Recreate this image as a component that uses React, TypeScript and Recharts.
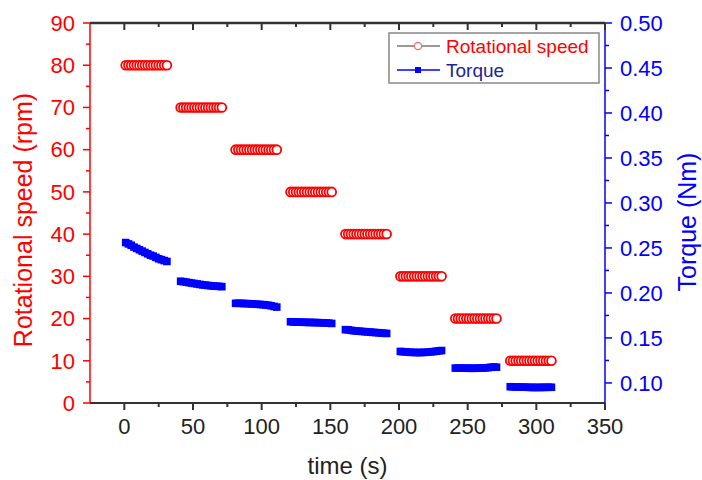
import React from 'react';
import { LineChart, Line, XAxis, YAxis } from 'recharts';

const FONT = '"Liberation Sans", Arial, Helvetica, sans-serif';

// ---- data ----
const segmentStartTimes = [1, 41, 81, 121, 161, 201, 241, 281];
const sampleOffsets = [0, 2, 4, 6, 8, 10, 12, 14, 16, 18, 20, 22, 24, 26, 28, 30];
const speedLevels = [80, 70, 60, 50, 40, 30, 20, 10];

const torqueSeg1 = [0.256, 0.2545, 0.253, 0.251, 0.2495, 0.248, 0.2465, 0.245, 0.2435, 0.242, 0.241, 0.2395, 0.238, 0.237, 0.236, 0.235];
const torqueSeg2 = [0.213, 0.2125, 0.212, 0.2115, 0.211, 0.2105, 0.21, 0.2095, 0.209, 0.2087, 0.2083, 0.208, 0.2077, 0.2075, 0.2073, 0.207];
const torqueSeg3 = [0.1885, 0.1885, 0.1884, 0.1883, 0.1882, 0.188, 0.1878, 0.1876, 0.1874, 0.1872, 0.187, 0.1867, 0.1863, 0.1857, 0.185, 0.1843];
const torqueSeg4 = [0.168, 0.1678, 0.1677, 0.1676, 0.1675, 0.1674, 0.1673, 0.1672, 0.1672, 0.1671, 0.167, 0.1669, 0.1668, 0.1666, 0.1664, 0.1661];
const torqueSeg5 = [0.1592, 0.159, 0.1585, 0.158, 0.1577, 0.1575, 0.1572, 0.157, 0.1567, 0.1565, 0.1562, 0.156, 0.1558, 0.1555, 0.1552, 0.155];
const torqueSeg6 = [0.135, 0.1347, 0.1345, 0.1342, 0.134, 0.1339, 0.1338, 0.1338, 0.1339, 0.134, 0.1342, 0.1345, 0.1348, 0.1352, 0.1356, 0.136];
const torqueSeg7 = [0.1165, 0.1165, 0.1164, 0.1164, 0.1164, 0.1163, 0.1163, 0.1163, 0.1164, 0.1165, 0.1166, 0.1168, 0.117, 0.1174, 0.1177, 0.1175];
const torqueSeg8 = [0.0958, 0.0957, 0.0956, 0.0955, 0.0954, 0.0953, 0.0952, 0.0951, 0.095, 0.095, 0.095, 0.095, 0.0951, 0.0951, 0.0952, 0.0952];
const torqueSegments = [torqueSeg1, torqueSeg2, torqueSeg3, torqueSeg4, torqueSeg5, torqueSeg6, torqueSeg7, torqueSeg8];

const xDomain = [-25, 350];
const xMajorTicks = [0, 50, 100, 150, 200, 250, 300, 350];
const xMinorTicks = [25, 75, 125, 175, 225, 275, 325];
const speedMajorTicks = [0, 10, 20, 30, 40, 50, 60, 70, 80, 90];
const speedMinorTicks = [5, 15, 25, 35, 45, 55, 65, 75, 85];
const torqueMajorTicks = [0.1, 0.15, 0.2, 0.25, 0.3, 0.35, 0.4, 0.45, 0.5];
const torqueMinorTicks = [0.125, 0.175, 0.225, 0.275, 0.325, 0.375, 0.425, 0.475];

type Row = { time: number; speed: number | null; torque: number | null };
const chartData: Row[] = [];
segmentStartTimes.forEach((start, s) => {
  sampleOffsets.forEach((off, i) => {
    chartData.push({ time: start + off, speed: speedLevels[s], torque: torqueSegments[s][i] });
  });
  chartData.push({ time: start + 35, speed: null, torque: null });
});

const isMajor = (v: number, majors: number[]) => majors.some((m) => Math.abs(m - v) < 1e-6);

// ---- layout ----
const CHART_W = 702;
const CHART_H = 480;
const MARGIN = { top: 23, right: 7, bottom: 27, left: 10 };
const LEFT_W = 80;
const RIGHT_W = 90;
const X_AXIS_H = 50;
const PLOT_X = MARGIN.left + LEFT_W;
const PLOT_Y = MARGIN.top;
const PLOT_W = CHART_W - MARGIN.left - MARGIN.right - LEFT_W - RIGHT_W;

const TICK_SIZE = 7;
const TICK_MARGIN = 8;
const MINOR_LEN = 4;
const AXIS_GRAY = '#333';
const RED = '#ff0000';
const BLUE = '#0000ff';

const xToPx = (t: number) => PLOT_X + ((t - xDomain[0]) / (xDomain[1] - xDomain[0])) * PLOT_W;

const BottomTick = (p: any) => {
  const v = p.payload.value;
  const major = isMajor(v, xMajorTicks);
  const axisY = p.y - TICK_SIZE - TICK_MARGIN;
  return (
    <g>
      <line x1={p.x} x2={p.x} y1={axisY} y2={axisY + (major ? TICK_SIZE : MINOR_LEN)} stroke={AXIS_GRAY} strokeWidth={2} />
      {major && (
        <text x={p.x} y={p.y} dy="0.71em" textAnchor="middle" fontSize={22} fontFamily={FONT} fill="#222">
          {v}
        </text>
      )}
    </g>
  );
};

const LeftTick = (p: any) => {
  const v = p.payload.value;
  const major = isMajor(v, speedMajorTicks);
  const axisX = p.x + TICK_SIZE + TICK_MARGIN;
  return (
    <g>
      <line x1={axisX} x2={axisX - (major ? TICK_SIZE : MINOR_LEN)} y1={p.y} y2={p.y} stroke={RED} strokeWidth={1.5} />
      {major && (
        <text x={p.x} y={p.y} dy="0.355em" textAnchor="end" fontSize={22} fontFamily={FONT} fill={RED}>
          {v}
        </text>
      )}
    </g>
  );
};

const RightTick = (p: any) => {
  const v = p.payload.value;
  const major = isMajor(v, torqueMajorTicks);
  const axisX = p.x - TICK_SIZE - TICK_MARGIN;
  return (
    <g>
      <line x1={axisX} x2={axisX + (major ? TICK_SIZE : MINOR_LEN)} y1={p.y} y2={p.y} stroke={BLUE} strokeWidth={1.5} />
      {major && (
        <text x={p.x} y={p.y} dy="0.355em" textAnchor="start" fontSize={22} fontFamily={FONT} fill={BLUE}>
          {v.toFixed(2)}
        </text>
      )}
    </g>
  );
};

const SpeedDot = (p: any) => {
  if (p.cy == null || Number.isNaN(p.cy) || p.value == null) return <g key={`sd-${p.index}`} />;
  return <circle key={`sd-${p.index}`} cx={p.cx} cy={p.cy} r={4.4} fill="#fff" stroke={RED} strokeWidth={1.8} />;
};

const TorqueDot = (p: any) => {
  if (p.cy == null || Number.isNaN(p.cy) || p.value == null) return <g key={`td-${p.index}`} />;
  return <rect key={`td-${p.index}`} x={p.cx - 3.8} y={p.cy - 3.8} width={7.6} height={7.6} fill={BLUE} />;
};

const TopFrame = () => (
  <svg width={CHART_W} height={CHART_H} style={{ position: 'absolute', left: 0, top: 0, pointerEvents: 'none', zIndex: 2 }}>
    <rect x={PLOT_X} y={PLOT_Y - 1.25} width={PLOT_W} height={2.5} fill={AXIS_GRAY} />
    {[...xMajorTicks, ...xMinorTicks].map((t) => (
      <rect
        key={`top-${t}`}
        x={xToPx(t) - 1}
        y={PLOT_Y}
        width={2}
        height={isMajor(t, xMajorTicks) ? TICK_SIZE : MINOR_LEN}
        fill={AXIS_GRAY}
      />
    ))}
  </svg>
);

const LegendBox = () => (
  <svg width={212} height={52} style={{ position: 'absolute', left: 388, top: 32, zIndex: 3 }}>
    <rect x={1} y={1} width={210} height={50} fill="#fff" stroke="#888" strokeWidth={1.5} />
    <line x1={9} x2={52} y1={14} y2={14} stroke="#777" strokeWidth={1.5} />
    <circle cx={30} cy={14} r={3.6} fill="#fff" stroke="#f07070" strokeWidth={1.3} />
    <text x={58} y={14} dy="0.355em" fontSize={19} fontFamily={FONT} fill={RED}>
      Rotational speed
    </text>
    <line x1={9} x2={52} y1={38} y2={38} stroke={BLUE} strokeWidth={1.5} />
    <rect x={27} y={35} width={6} height={6} fill={BLUE} />
    <text x={58} y={38} dy="0.355em" fontSize={19} fontFamily={FONT} fill="#22229a">
      Torque
    </text>
  </svg>
);

export default function App() {
  return (
    <div style={{ position: 'absolute', left: 0, top: 0, width: CHART_W, height: CHART_H, background: '#fff' }}>
      <LineChart width={CHART_W} height={CHART_H} data={chartData} margin={MARGIN}>
        <XAxis
          xAxisId="bottom"
          dataKey="time"
          type="number"
          domain={xDomain}
          allowDataOverflow
          ticks={[...xMajorTicks, ...xMinorTicks]}
          interval={0}
          height={X_AXIS_H}
          axisLine={{ stroke: AXIS_GRAY, strokeWidth: 2 }}
          tickLine={false}
          tickSize={TICK_SIZE}
          tickMargin={TICK_MARGIN}
          tick={(p: any) => <BottomTick {...p} />}
          label={{
            value: 'time (s)',
            content: (lp: any) => {
              const vb = lp.viewBox;
              return (
                <text x={vb.x + vb.width / 2} y={vb.y + 71} textAnchor="middle" fontSize={24} fontFamily={FONT} fill="#222">
                  time (s)
                </text>
              );
            },
          }}
        />
        <YAxis
          yAxisId="speed"
          type="number"
          domain={[0, 90]}
          allowDataOverflow
          ticks={[...speedMajorTicks, ...speedMinorTicks]}
          interval={0}
          width={LEFT_W}
          axisLine={{ stroke: RED, strokeWidth: 1.5 }}
          tickLine={false}
          tickSize={TICK_SIZE}
          tickMargin={TICK_MARGIN}
          tick={(p: any) => <LeftTick {...p} />}
          label={{
            value: 'Rotational speed (rpm)',
            content: (lp: any) => {
              const vb = lp.viewBox;
              const x = vb.x + 22;
              const y = vb.y + vb.height / 2 + 7;
              return (
                <text x={x} y={y} transform={`rotate(-90, ${x}, ${y})`} textAnchor="middle" fontSize={25} fontFamily={FONT} fill={RED}>
                  Rotational speed (rpm)
                </text>
              );
            },
          }}
        />
        <YAxis
          yAxisId="torque"
          orientation="right"
          type="number"
          domain={[0.0777, 0.5]}
          allowDataOverflow
          ticks={[...torqueMajorTicks, ...torqueMinorTicks]}
          interval={0}
          width={RIGHT_W}
          axisLine={{ stroke: BLUE, strokeWidth: 1.5 }}
          tickLine={false}
          tickSize={TICK_SIZE}
          tickMargin={TICK_MARGIN}
          tick={(p: any) => <RightTick {...p} />}
          label={{
            value: 'Torque (Nm)',
            content: (lp: any) => {
              const vb = lp.viewBox;
              const x = vb.x + 91;
              const y = vb.y + vb.height / 2 + 9;
              return (
                <text x={x} y={y} transform={`rotate(-90, ${x}, ${y})`} textAnchor="middle" fontSize={25} fontFamily={FONT} fill={BLUE}>
                  Torque (Nm)
                </text>
              );
            },
          }}
        />
        <Line
          xAxisId="bottom"
          yAxisId="torque"
          dataKey="torque"
          name="Torque"
          stroke="none"
          strokeWidth={0}
          dot={(p: any) => <TorqueDot {...p} key={`td-${p.index}`} />}
          activeDot={false}
          isAnimationActive={false}
        />
        <Line
          xAxisId="bottom"
          yAxisId="speed"
          dataKey="speed"
          name="Rotational speed"
          stroke="#666"
          strokeWidth={1}
          dot={(p: any) => <SpeedDot {...p} key={`sd-${p.index}`} />}
          activeDot={false}
          isAnimationActive={false}
        />
      </LineChart>
      <TopFrame />
      <LegendBox />
    </div>
  );
}
